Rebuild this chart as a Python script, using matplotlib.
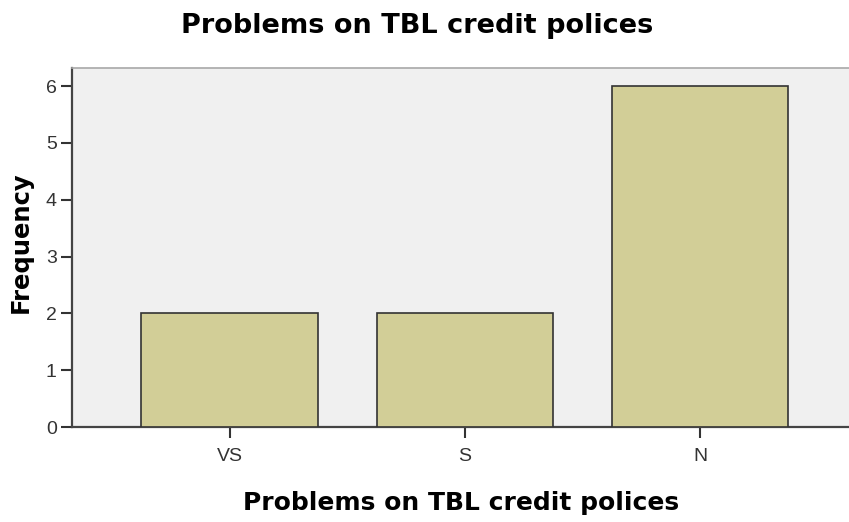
import matplotlib
matplotlib.use("Agg")
import matplotlib.pyplot as plt

categories = ["VS", "S", "N"]
frequency = [2, 2, 6]
y_ticks = [0, 1, 2, 3, 4, 5, 6]
title = "Problems on TBL credit polices"

fig = plt.figure(figsize=(8.49, 5.22), dpi=100)
ax = fig.add_axes([72/849, (522-427)/522, 1 - 72/849 + 0.002, (427-68)/522])
ax.set_facecolor("#F0F0F0")

x = list(range(len(categories)))
ax.bar(x, frequency, width=0.75, color="#D2CE97", edgecolor="#333333", linewidth=1.2, zorder=3)

ax.set_xlim(-0.67, len(categories) - 1 + 0.64)
ax.set_ylim(0, 6.32)
ax.set_yticks(y_ticks)
ax.set_xticks(x)
ax.set_xticklabels(categories)

for s in ["left", "bottom"]:
    ax.spines[s].set_color("#444444")
    ax.spines[s].set_linewidth(1.6)
ax.spines["top"].set_color("#A8A8A8")
ax.spines["top"].set_linewidth(1.2)
ax.spines["right"].set_visible(False)

ax.tick_params(axis="both", direction="out", length=8, width=1.5, color="#333333",
               labelcolor="#333333", labelsize=14, pad=3, labelfontfamily="Liberation Sans")
ax.tick_params(axis="x", pad=7)

ax.set_ylabel("Frequency", fontsize=17.5, fontweight="bold", family="DejaVu Sans")
ax.yaxis.set_label_coords(-39/777, 0.515)
ax.set_xlabel(title, fontsize=18, fontweight="bold", family="DejaVu Sans", labelpad=19)
fig.suptitle(title, fontsize=19.5, fontweight="bold", family="DejaVu Sans",
             x=(180+655)/2/849, y=1-13/522, va="top")

fig.savefig("out.png", dpi=100)
